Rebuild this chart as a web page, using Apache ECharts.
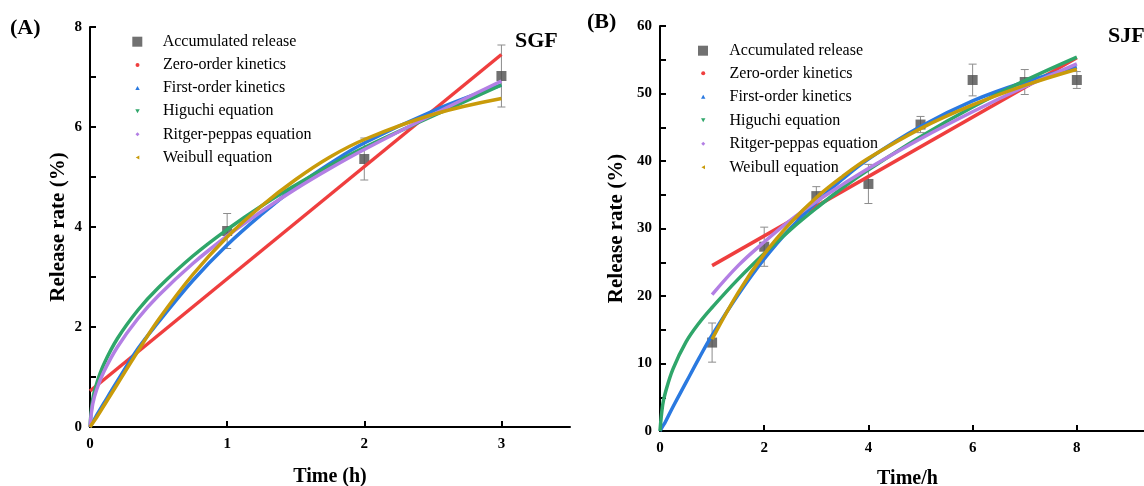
<!DOCTYPE html>
<html><head><meta charset="utf-8">
<script src="https://cdn.jsdelivr.net/npm/echarts@6/dist/echarts.min.js"></script>
<style>html,body{margin:0;padding:0;background:#fff}#c{width:1144px;height:486px}</style>
</head><body><div id="c"></div>
<script>
// ---------- data ----------
const seriesNames = ['Accumulated release','Zero-order kinetics','First-order kinetics','Higuchi equation','Ritger-peppas equation','Weibull equation'];
const seriesColors = ['#4d4d4d','#ef3e3e','#2a79e0','#2fa66a','#b37fe4','#c99b0a'];

// Panel A: SGF
const sgfTime = [1, 2, 3];
const sgfRelease = [3.92, 5.36, 7.02];
const sgfError = [0.35, 0.42, 0.62];
const sgfZeroTime = [0, 3];
const sgfZero = [0.72, 7.45];
const sgfFitTime = [0, 0.02, 0.05, 0.1, 0.2, 0.35, 0.5, 0.75, 1, 1.25, 1.5, 1.75, 2, 2.5, 3];
const sgfFirst   = [0, 0.10, 0.24, 0.47, 0.92, 1.57, 2.10, 2.93, 3.64, 4.25, 4.80, 5.27, 5.68, 6.32, 6.84];
const sgfHiguchi = [0, 0.56, 0.88, 1.25, 1.77, 2.34, 2.79, 3.42, 3.95, 4.42, 4.84, 5.23, 5.59, 6.22, 6.84];
const sgfPeppas  = [0, 0.46, 0.76, 1.10, 1.60, 2.17, 2.63, 3.27, 3.82, 4.31, 4.76, 5.17, 5.55, 6.25, 6.92];
const sgfWeibull = [0, 0.08, 0.20, 0.42, 0.86, 1.52, 2.15, 3.05, 3.80, 4.42, 4.95, 5.40, 5.75, 6.25, 6.57];
const sgfXTicks = [0, 1, 2, 3];

// Panel B: SJF
const sjfTime = [1, 2, 3, 4, 5, 6, 7, 8];
const sjfRelease = [13.1, 27.3, 34.8, 36.6, 45.4, 52.0, 51.7, 52.0];
const sjfError = [2.9, 2.9, 1.4, 2.9, 1.2, 2.35, 1.85, 1.25];
const sjfZeroTime = [1, 8];
const sjfZero = [24.5, 55.3];
const sjfFitTime = [0, 0.05, 0.1, 0.25, 0.5, 0.75, 1, 1.5, 2, 2.5, 3, 3.5, 4, 5, 6, 7, 8];
const sjfFirst   = [0, 0.7, 1.3, 3.6, 7.2, 10.8, 14.2, 20.2, 25.5, 30.0, 33.9, 37.3, 40.3, 45.1, 48.9, 51.7, 53.9];
const sjfHiguchi = [0, 3.8, 5.6, 9.2, 13.2, 16.0, 18.3, 22.5, 26.3, 29.8, 33.0, 36.0, 38.7, 43.6, 48.0, 51.9, 55.4];
const sjfLateTime = [1, 1.5, 2, 2.5, 3, 3.5, 4, 5, 6, 7, 8];
const sjfPeppas  = [20.2, 24.5, 28.0, 31.2, 34.0, 36.5, 38.9, 43.3, 47.3, 51.0, 54.4];
const sjfWeibull = [13.6, 20.5, 26.2, 30.8, 34.6, 37.7, 40.4, 44.8, 48.3, 51.2, 53.6];
const sjfXTicks = [0, 2, 4, 6, 8];

// ---------- helpers ----------
const FONT = 'Liberation Serif';
const zip = (xs, ys) => xs.map((x, i) => [x, ys[i]]);
const zip3 = (xs, ys, es) => xs.map((x, i) => [x, ys[i], es[i]]);

const icons = [
  'path://M0,0L10,0L10,10L0,10Z',
  'path://M5,0A5,5,0,1,1,5,10A5,5,0,1,1,5,0Z',
  'path://M5,0L10,9L0,9Z',
  'path://M0,0L10,0L5,9Z',
  'path://M5,0L10,5L5,10L0,5Z',
  'path://M0,5L9,0L9,10Z'
];

function errorBarRender(params, api) {
  const x = api.value(0), y = api.value(1), e = api.value(2);
  const t = api.coord([x, y + e]);
  const b = api.coord([x, y - e]);
  const hw = 4;
  const st = { stroke: '#8c8c8c', lineWidth: 1 };
  return { type: 'group', children: [
    { type: 'line', shape: { x1: t[0], y1: t[1], x2: b[0], y2: b[1] }, style: st },
    { type: 'line', shape: { x1: t[0] - hw, y1: t[1], x2: t[0] + hw, y2: t[1] }, style: st },
    { type: 'line', shape: { x1: b[0] - hw, y1: b[1], x2: b[0] + hw, y2: b[1] }, style: st }
  ]};
}

function makeSeries(idx, time, release, error, fits) {
  const out = [];
  out.push({ type: 'custom', name: 'err' + idx, xAxisIndex: idx, yAxisIndex: idx,
    renderItem: errorBarRender, encode: { x: 0, y: 1 }, data: zip3(time, release, error), z: 2, silent: true });
  out.push({ type: 'scatter', name: seriesNames[0], xAxisIndex: idx, yAxisIndex: idx,
    symbol: 'rect', symbolSize: 10, itemStyle: { color: seriesColors[0] }, data: zip(time, release), z: 3 });
  fits.forEach((f, k) => {
    out.push({ type: 'line', name: seriesNames[k + 1], xAxisIndex: idx, yAxisIndex: idx,
      data: zip(f[0], f[1]), smooth: f[0].length > 2 ? 0.4 : false, showSymbol: false, symbol: 'none',
      lineStyle: { width: 3.5, color: seriesColors[k + 1] }, itemStyle: { color: seriesColors[k + 1] }, z: 4 });
  });
  return out;
}

const lblStyle = { fontFamily: FONT, fontWeight: 'bold', fontSize: 15, color: '#000' };
const nameStyle = { fontFamily: FONT, fontWeight: 'bold', fontSize: 20, color: '#000' };
const axLine = { show: true, onZero: false, lineStyle: { color: '#000', width: 2 } };
const axTick = { show: true, inside: true, length: 6, lineStyle: { color: '#000', width: 2 } };

// legend: visible icon centred at cx, text starting at textX
function legendPair(cx, textX, topSquare, topLines, gap) {
  const w = (textX - 5 - cx) * 2;
  const base = { orient: 'vertical', padding: 0, selectedMode: false, itemWidth: w,
    textStyle: { fontFamily: FONT, fontSize: 16, color: '#000', lineHeight: 16 } };
  return [
    Object.assign({}, base, { left: cx - 5, top: topSquare, itemHeight: 10,
      data: [{ name: seriesNames[0], icon: icons[0] }] }),
    Object.assign({}, base, { left: cx - 2, top: topLines, itemHeight: 4, itemGap: gap,
      data: seriesNames.slice(1).map((n, i) => ({ name: n, icon: icons[i + 1] })) })
  ];
}

const option = {
  animation: false,
  backgroundColor: '#fff',
  grid: [
    { left: 90, top: 27, width: 480, height: 400, outerBoundsMode: 'none', containLabel: false },
    { left: 660, top: 26, width: 495, height: 405, outerBoundsMode: 'none', containLabel: false }
  ],
  xAxis: [
    { type: 'value', gridIndex: 0, min: 0, max: 3.5, interval: 1, name: 'Time (h)', nameLocation: 'middle', nameGap: 40,
      nameTextStyle: nameStyle, axisLine: axLine, axisTick: Object.assign({}, axTick, { customValues: sgfXTicks }),
      axisLabel: Object.assign({}, lblStyle, { margin: 10, customValues: sgfXTicks }), splitLine: { show: false } },
    { type: 'value', gridIndex: 1, min: 0, max: 9.5, interval: 2, name: 'Time/h', nameLocation: 'middle', nameGap: 38,
      nameTextStyle: nameStyle, axisLine: axLine, axisTick: Object.assign({}, axTick, { customValues: sjfXTicks }),
      axisLabel: Object.assign({}, lblStyle, { margin: 10, customValues: sjfXTicks }), splitLine: { show: false } }
  ],
  yAxis: [
    { type: 'value', gridIndex: 0, min: 0, max: 8, interval: 2, name: 'Release rate (%)', nameLocation: 'middle', nameGap: 21,
      nameTextStyle: Object.assign({}, nameStyle, { fontSize: 21 }), axisLine: axLine, axisTick: axTick,
      minorTick: { show: true, splitNumber: 2, length: 6, lineStyle: { color: '#000', width: 2 } },
      axisLabel: Object.assign({}, lblStyle, { margin: 8 }), splitLine: { show: false }, minorSplitLine: { show: false } },
    { type: 'value', gridIndex: 1, min: 0, max: 60, interval: 10, name: 'Release rate (%)', nameLocation: 'middle', nameGap: 33,
      nameTextStyle: Object.assign({}, nameStyle, { fontSize: 21 }), axisLine: axLine, axisTick: axTick,
      minorTick: { show: true, splitNumber: 2, length: 6, lineStyle: { color: '#000', width: 2 } },
      axisLabel: Object.assign({}, lblStyle, { margin: 8 }), splitLine: { show: false }, minorSplitLine: { show: false } }
  ],
  legend: [].concat(
    legendPair(137.3, 162.7, 33.7, 57, 7.1),
    legendPair(703, 729.3, 42.7, 65.3, 7.5)
  ),
  graphic: [
    { type: 'text', left: 10, top: 17, style: { text: '(A)', font: 'bold 22px "Liberation Serif"', fill: '#000' } },
    { type: 'text', left: 587, top: 11, style: { text: '(B)', font: 'bold 22px "Liberation Serif"', fill: '#000' } },
    { type: 'text', left: 515, top: 30, style: { text: 'SGF', font: 'bold 22px "Liberation Serif"', fill: '#000' } },
    { type: 'text', left: 1108, top: 25, style: { text: 'SJF', font: 'bold 22px "Liberation Serif"', fill: '#000' } }
  ],
  series: [].concat(
    makeSeries(0, sgfTime, sgfRelease, sgfError, [
      [sgfZeroTime, sgfZero], [sgfFitTime, sgfFirst], [sgfFitTime, sgfHiguchi], [sgfFitTime, sgfPeppas], [sgfFitTime, sgfWeibull]
    ]),
    makeSeries(1, sjfTime, sjfRelease, sjfError, [
      [sjfZeroTime, sjfZero], [sjfFitTime, sjfFirst], [sjfFitTime, sjfHiguchi], [sjfLateTime, sjfPeppas], [sjfLateTime, sjfWeibull]
    ])
  )
};

const chart = echarts.init(document.getElementById('c'), null, { renderer: 'canvas' });
chart.setOption(option);
</script>
</body></html>
